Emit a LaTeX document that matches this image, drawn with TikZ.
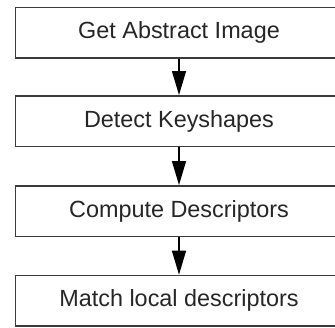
\documentclass[tikz,border=0pt]{standalone}
\usepackage{fontspec}
\setmainfont{Liberation Sans}
\usetikzlibrary{arrows.meta}
\definecolor{edge}{HTML}{3A3A3A}
\definecolor{txt}{HTML}{262626}
\begin{document}
\begin{tikzpicture}[x=1pt,y=-1pt,
  stepbox/.style={draw=edge,line width=1.5pt,fill=white,minimum width=327pt,minimum height=50.5pt,inner sep=0pt,
    text=txt,font=\fontsize{23.4}{28}\selectfont},
  flow/.style={draw=black,line width=1.3pt,-{Triangle[length=24pt,width=14pt]}}]
\useasboundingbox[fill=white] (0,0) rectangle (335,327);
\node[stepbox] (a) at (179,32.75) {Get Abstract Image};
\node[stepbox] (b) at (179,121) {Detect Keyshapes};
\node[stepbox] (c) at (179,211) {Compute Descriptors};
\node[stepbox] (d) at (179,300.7) {Match local descriptors};
\draw[flow] (a) -- (b);
\draw[flow] (b) -- (c);
\draw[flow] (c) -- (d);
\end{tikzpicture}
\end{document}
